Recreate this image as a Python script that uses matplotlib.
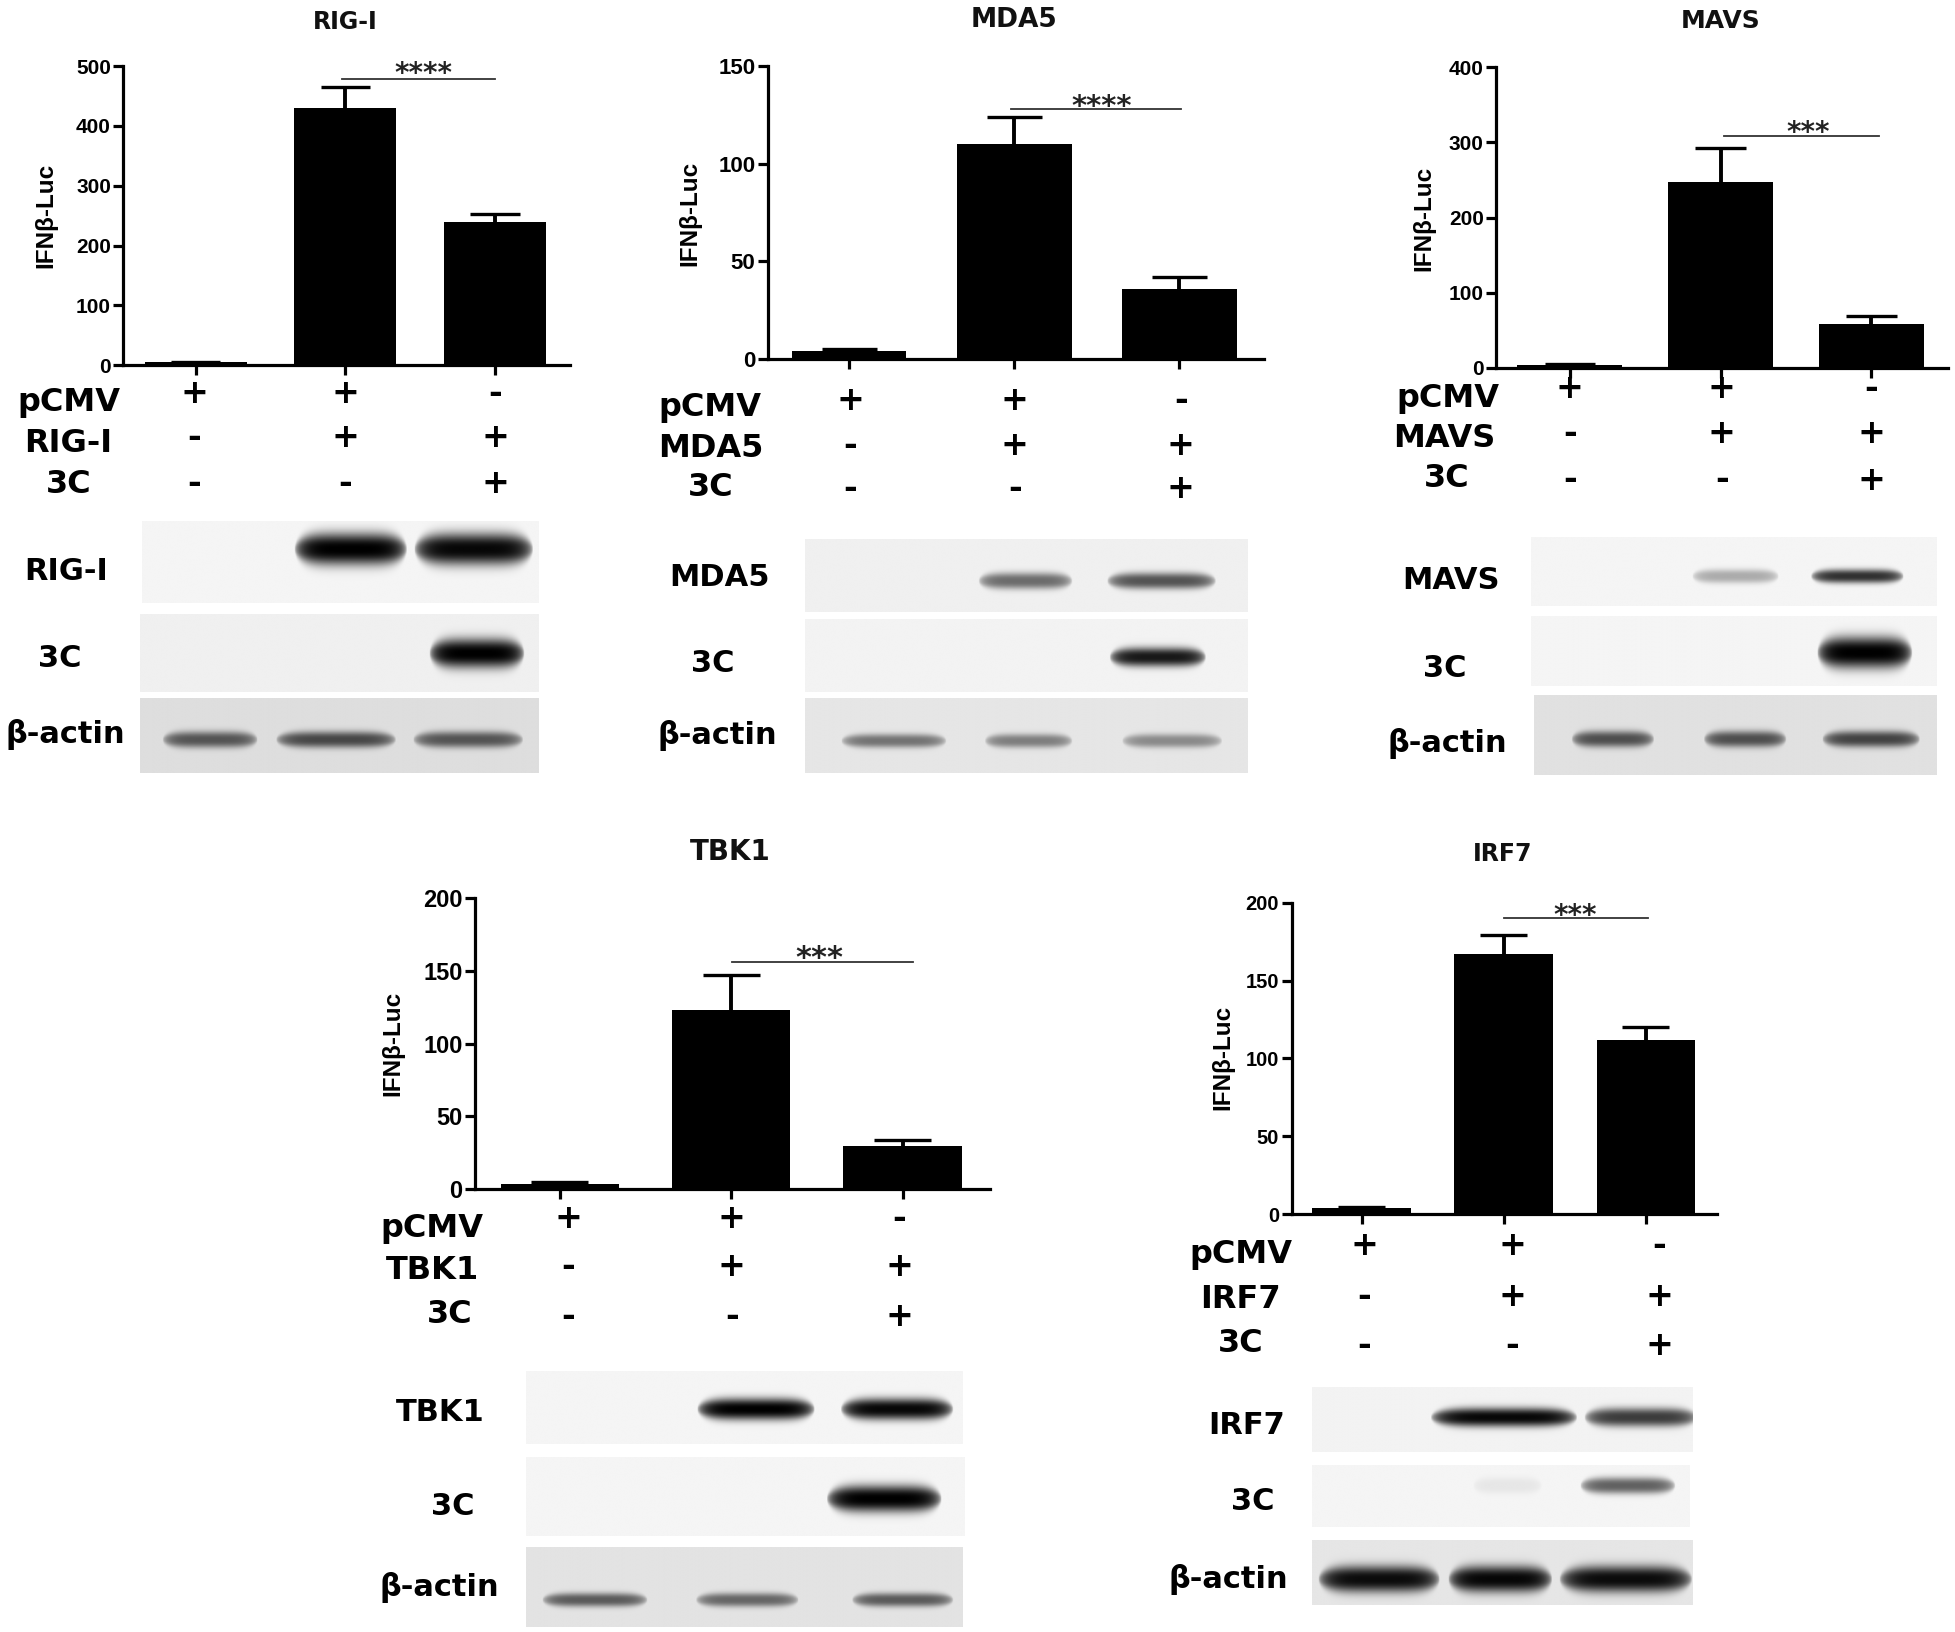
import numpy as np
import matplotlib
matplotlib.use('Agg')
import matplotlib.pyplot as plt

# valores
rig_vals = [5, 430, 240]
rig_err = [1, 35, 13]
mda5_vals = [4, 110, 36]
mda5_err = [1, 14, 6]
mavs_vals = [4, 247, 58]
mavs_err = [1, 46, 11]
tbk1_vals = [4, 123, 30]
tbk1_err = [1, 24, 4]
irf7_vals = [4, 167, 112]
irf7_err = [1, 12, 8]

row_signs = [['+', '+', '-'], ['-', '+', '+'], ['-', '-', '+']]

# intensidad de banda por carril (target, 3C, actina)
rig_bands = [[0, 1.0, 0.97], [0, 0, 1.0], [0.62, 0.68, 0.62]]
mda5_bands = [[0, 0.55, 0.65], [0, 0, 0.9], [0.5, 0.45, 0.4]]
mavs_bands = [[0, 0.3, 0.8], [0, 0, 1.0], [0.65, 0.65, 0.7]]
tbk1_bands = [[0, 1.0, 0.97], [0, 0, 1.0], [0.6, 0.55, 0.6]]
irf7_bands = [[0, 0.97, 0.75], [0, 0.06, 0.6], [0.95, 0.97, 0.95]]

W, H = 1568.0, 1309.0  # coordenadas de trabajo (la salida es 1955x1632)
TICK_FONT = 'Liberation Sans'
ROW_FONT = 'DejaVu Sans'


def fx(px):
    return px / W


def fy(py):
    return 1 - py / H


# blot: caja, fondo, centro y, grosor, tramos de carril, posicion de etiqueta
panels = [
    dict(name='RIG-I', vals=rig_vals, err=rig_err, ymax=500, yticks=[0, 100, 200, 300, 400, 500], tick_fs=15,
         spine=99, right=457, y0=293, ytop=53, centers=[157, 277, 397], barw=82,
         sig_x=(274, 397), sig_y=479, stars='****', star_xy=(340, 54), star_fs=20,
         title_xy=(277, 18), title_fs=17, ylab_xy=(37, 173),
         row_xy=[(55, 323), (55, 356), (55, 389)], sign_x=[156, 277, 397], sign_y=[316, 351, 388],
         bands=rig_bands,
         blots=[(114, 432, 419, 484, 0.96, 441, 12, [(100, 200), (236, 326), (332, 427)], (53, 458)),
                (112, 432, 493, 555, 0.94, 524, 11, [(100, 200), (200, 300), (344, 420)], (48, 528)),
                (112, 432, 560, 620, 0.87, 593, 6, [(130, 206), (221, 317), (331, 419)], (52, 589))]),
    dict(name='MDA5', vals=mda5_vals, err=mda5_err, ymax=150, yticks=[0, 50, 100, 150], tick_fs=16,
         spine=616, right=1014, y0=288, ytop=53, centers=[681, 814, 946], barw=92,
         sig_x=(811, 947), sig_y=128, stars='****', star_xy=(884, 80), star_fs=21,
         title_xy=(813, 16), title_fs=19, ylab_xy=(553, 171),
         row_xy=[(569, 327), (570, 360), (570, 391)], sign_x=[682, 814, 947], sign_y=[321, 357, 392],
         bands=mda5_bands,
         blots=[(646, 1001, 433, 491, 0.94, 466, 6, [(700, 760), (785, 860), (888, 975)], (577, 463)),
                (646, 1001, 497, 555, 0.95, 527, 7, [(700, 760), (785, 860), (890, 967)], (572, 532)),
                (646, 1001, 560, 620, 0.9, 594, 5, [(675, 759), (790, 860), (900, 980)], (575, 590))]),
    dict(name='MAVS', vals=mavs_vals, err=mavs_err, ymax=400, yticks=[0, 100, 200, 300, 400], tick_fs=15,
         spine=1200, right=1562, y0=295, ytop=54, centers=[1259, 1380, 1501], barw=84,
         sig_x=(1383, 1507), sig_y=308, stars='***', star_xy=(1450, 101), star_fs=20,
         title_xy=(1380, 17), title_fs=18, ylab_xy=(1142, 175),
         row_xy=[(1161, 320), (1158, 352), (1160, 384)], sign_x=[1259, 1381, 1501], sign_y=[312, 348, 385],
         bands=mavs_bands,
         blots=[(1228, 1553, 431, 486, 0.96, 462, 5, [(1260, 1330), (1357, 1426), (1452, 1526)], (1164, 466)),
                (1228, 1553, 494, 550, 0.96, 523, 12, [(1260, 1330), (1357, 1426), (1457, 1533)], (1159, 536)),
                (1230, 1553, 558, 622, 0.88, 593, 6, [(1260, 1326), (1366, 1432), (1461, 1539)], (1161, 596))]),
    dict(name='TBK1', vals=tbk1_vals, err=tbk1_err, ymax=200, yticks=[0, 50, 100, 150, 200], tick_fs=17,
         spine=381, right=794, y0=954, ytop=720, centers=[449, 587, 724], barw=95,
         sig_x=(587, 732), sig_y=156, stars='***', star_xy=(657, 764), star_fs=22,
         title_xy=(586, 683), title_fs=20, ylab_xy=(315, 837),
         row_xy=[(346, 985), (347, 1019), (361, 1054)], sign_x=[456, 587, 721], sign_y=[977, 1016, 1056],
         bands=tbk1_bands,
         blots=[(422, 772, 1100, 1158, 0.96, 1130, 8, [(440, 520), (559, 653), (674, 764)], (353, 1133)),
                (422, 774, 1169, 1232, 0.96, 1202, 10, [(440, 520), (559, 640), (663, 755)], (363, 1208)),
                (422, 772, 1241, 1305, 0.89, 1283, 5, [(435, 519), (558, 640), (683, 764)], (352, 1273))]),
    dict(name='IRF7', vals=irf7_vals, err=irf7_err, ymax=200, yticks=[0, 50, 100, 150, 200], tick_fs=14.5,
         spine=1036, right=1377, y0=974, ytop=724, centers=[1092, 1206, 1320], barw=79,
         sig_x=(1206, 1322), sig_y=190, stars='***', star_xy=(1263, 729), star_fs=20,
         title_xy=(1205, 685), title_fs=17, ylab_xy=(981, 848),
         row_xy=[(995, 1006), (995, 1042), (995, 1078)], sign_x=[1094, 1213, 1331], sign_y=[999, 1040, 1079],
         bands=irf7_bands,
         blots=[(1052, 1357, 1113, 1165, 0.95, 1137, 7, [(1060, 1140), (1147, 1264), (1270, 1360)], (1000, 1143)),
                (1052, 1355, 1176, 1225, 0.96, 1192, 6, [(1060, 1140), (1181, 1236), (1267, 1343)], (1005, 1204)),
                (1052, 1357, 1235, 1287, 0.9, 1266, 10, [(1057, 1154), (1161, 1244), (1250, 1356)], (985, 1267))]),
]

fig = plt.figure(figsize=(19.55, 16.32), dpi=100, facecolor='white')

# capa de fondo en pixeles para textos y blots
bg = fig.add_axes([0, 0, 1, 1], zorder=0)
bg.set_xlim(0, W)
bg.set_ylim(H, 0)
bg.axis('off')


def draw_blot(box, strengths):
    x0, x1, y0, y1, shade, yc, thick, spans, _ = box
    xs = np.arange(x0, x1, 0.5)
    ys = np.arange(y0, y1, 0.5)
    X, Y = np.meshgrid(xs, ys)
    img = np.full(X.shape, shade)
    for (a, b), s in zip(spans, strengths):
        if s <= 0:
            continue
        # banda con puntas afinadas y bordes suaves
        u = (X - (a + b) / 2.0) / ((b - a) / 2.0)
        edge = np.clip(1 - np.abs(u) ** 5, 0, 1)
        t = thick * np.sqrt(edge) + 0.5
        prof = np.exp(-(np.abs(Y - yc) / t) ** 2.6) * np.sqrt(edge)
        img = img * (1 - s * prof)
    bg.imshow(img, extent=(x0, x1, y1, y0), cmap='gray', vmin=0, vmax=1,
              aspect='auto', interpolation='bilinear', zorder=1)


for p in panels:
    left = fx(p['spine'])
    bottom = fy(p['y0'])
    ax = fig.add_axes([left, bottom, fx(p['right']) - left, fy(p['ytop']) - bottom], zorder=2)
    ax.patch.set_alpha(0)

    c = p['centers']
    step = (c[2] - c[0]) / 2.0
    xpos = np.arange(3)
    bw = p['barw'] / step
    vals = np.array(p['vals'])
    tops = vals + np.array(p['err'])
    ax.bar(xpos, vals, width=bw, color='black', zorder=3)
    ax.vlines(xpos, vals, tops, color='black', lw=2.8, zorder=2)
    ax.hlines(tops, xpos - bw * 0.24, xpos + bw * 0.24, color='black', lw=2.4, zorder=2)
    ax.set_xlim((p['spine'] - c[0]) / step, (p['right'] - c[0]) / step)
    ax.set_ylim(0, p['ymax'])
    ax.set_xticks(xpos)
    ax.set_xticklabels([])
    ax.set_yticks(p['yticks'])
    ax.tick_params(axis='both', width=2.3, length=7, direction='out', pad=2)
    for lab in ax.get_yticklabels():
        lab.set_fontfamily(TICK_FONT)
        lab.set_fontweight('bold')
        lab.set_fontsize(p['tick_fs'])
    ax.spines['top'].set_visible(False)
    ax.spines['right'].set_visible(False)
    ax.spines['left'].set_linewidth(2.3)
    ax.spines['bottom'].set_linewidth(2.3)

    # linea de significancia
    sx0 = (p['sig_x'][0] - c[0]) / step
    sx1 = (p['sig_x'][1] - c[0]) / step
    ax.plot([sx0, sx1], [p['sig_y'], p['sig_y']], color='#333333', lw=1.3, clip_on=False, zorder=4)
    bg.text(p['star_xy'][0], p['star_xy'][1] + 12, p['stars'], ha='center', va='baseline',
            fontsize=p['star_fs'], fontweight='bold', family='DejaVu Sans', color='#222222')

    bg.text(*p['title_xy'], p['name'], ha='center', va='center', fontsize=p['title_fs'], fontweight='bold',
            family='DejaVu Sans', color='#111111')
    bg.text(*p['ylab_xy'], 'IFNβ-Luc', ha='center', va='center', rotation=90, fontsize=17.5,
            fontweight='bold', family=TICK_FONT)

    names = ['pCMV', p['name'], '3C']
    for name, xy in zip(names, p['row_xy']):
        bg.text(xy[0], xy[1], name, ha='center', va='center', fontsize=23, fontweight='bold', family=ROW_FONT)
    for row, sy_px in zip(row_signs, p['sign_y']):
        for sign, sx_px in zip(row, p['sign_x']):
            bg.text(sx_px, sy_px, sign, ha='center', va='center', fontsize=24, fontweight='bold', family=ROW_FONT)

    blot_names = [p['name'], '3C', 'β-actin']
    for box, strengths, name in zip(p['blots'], p['bands'], blot_names):
        draw_blot(box, strengths)
        bg.text(box[8][0], box[8][1], name, ha='center', va='center', fontsize=22, fontweight='bold', family=ROW_FONT)

bg.set_xlim(0, W)
bg.set_ylim(H, 0)

fig.savefig('out.png', dpi=100)
